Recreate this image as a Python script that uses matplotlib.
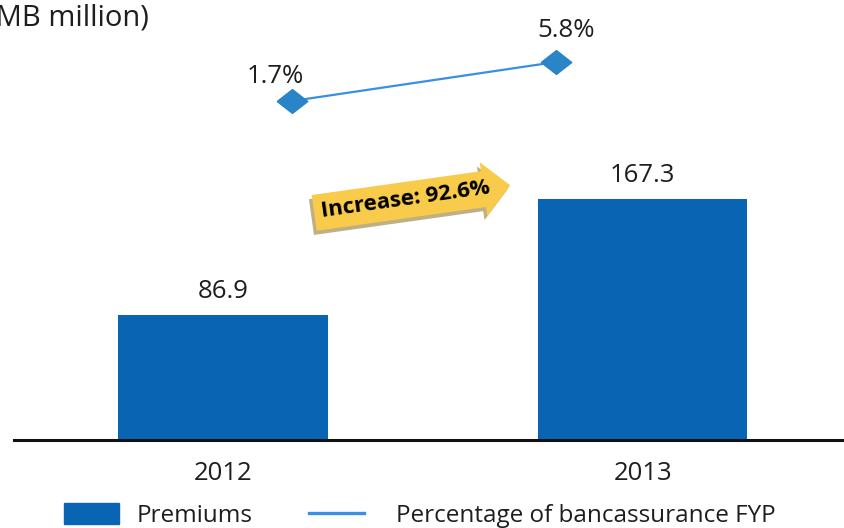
import matplotlib.pyplot as plt
import matplotlib.patheffects as pe
from matplotlib.patches import Patch
from matplotlib.lines import Line2D

plt.rcParams['font.family'] = ['Open Sans', 'DejaVu Sans']

# data
years = ['2012', '2013']
premiums = [86.9, 167.3]
fyp_share = [1.7, 5.8]
increase_text = 'Increase: 92.6%'
legend_labels = ['Premiums', 'Percentage of bancassurance FYP']

bar_color = '#0A64B4'
line_color = '#3B8EE6'
marker_color = '#2A84C8'
text_color = '#1E1E1E'

W, H = 844, 528
fig = plt.figure(figsize=(W / 100, H / 100), dpi=100)

# bars
rect = [14 / W, (H - 440) / H, 830 / W, 440 / H]
ax = fig.add_axes(rect)
x = range(len(years))
ax.bar(x, premiums, width=0.5, color=bar_color)
ax.set_xlim(-0.498, 1.480)
ax.set_ylim(0, 306)
for s in ['top', 'right', 'left']:
    ax.spines[s].set_visible(False)
ax.spines['bottom'].set_linewidth(2.2)
ax.spines['bottom'].set_color('#111111')
ax.set_yticks([])
ax.set_xticks(list(x))
ax.set_xticklabels(years, fontsize=18.5, color=text_color)
ax.tick_params(axis='x', length=0, pad=15)
for i, v in enumerate(premiums):
    ax.annotate(f'{v}', (i, v), xytext=(0, 8), textcoords='offset points',
                ha='center', va='bottom', fontsize=18.5, color=text_color)

# percentage line on its own overlay axes
ax2 = fig.add_axes(rect, facecolor='none')
ax2.set_xlim(-1.053, 2.091)
ax2.set_ylim(-33.94, 12.32)
ax2.axis('off')
diamond = [(-1, 0), (0, 0.78), (1, 0), (0, -0.78), (-1, 0)]
ax2.plot(range(len(fyp_share)), fyp_share, color=line_color, lw=1.6,
         marker=diamond, markersize=22, markerfacecolor=marker_color,
         markeredgecolor=marker_color)
label_offsets = [(-12, 9), (7, 14)]
for i, v in enumerate(fyp_share):
    ax2.annotate(f'{v}%', (i, v), xytext=label_offsets[i], textcoords='offset points',
                 ha='center', va='bottom', fontsize=18.5, color=text_color)

# yellow arrow callout
t = fig.text(406 / W, 1 - 200 / H, increase_text, rotation=8, ha='center', va='center',
             fontsize=16, fontweight='bold', color='black',
             bbox=dict(boxstyle='rarrow,pad=0.34', fc='#F8CB4A', ec='none'))
t.get_bbox_patch().set_path_effects([
    pe.SimplePatchShadow(offset=(-2, -3), shadow_rgbFace='#B9A675', alpha=0.9),
    pe.Normal()])

# unit caption, running off the left edge
fig.text(149 / W, 1 - 3 / H, '(RMB million)', ha='right', va='top',
         fontsize=21, color=text_color)

# legend, one entry per block
common = dict(loc='lower left', frameon=False, borderpad=0, borderaxespad=0,
              fontsize=17.5, handlelength=2.25, handleheight=0.95,
              labelcolor=text_color)
fig.legend([Patch(color=bar_color)], legend_labels[:1],
           bbox_to_anchor=(64 / W, 0), handletextpad=0.72, **common)
fig.legend([Line2D([], [], color=line_color, lw=2.4)], legend_labels[1:],
           bbox_to_anchor=(309 / W, 0), handletextpad=1.35, **common)

fig.savefig('out.png', dpi=100)
